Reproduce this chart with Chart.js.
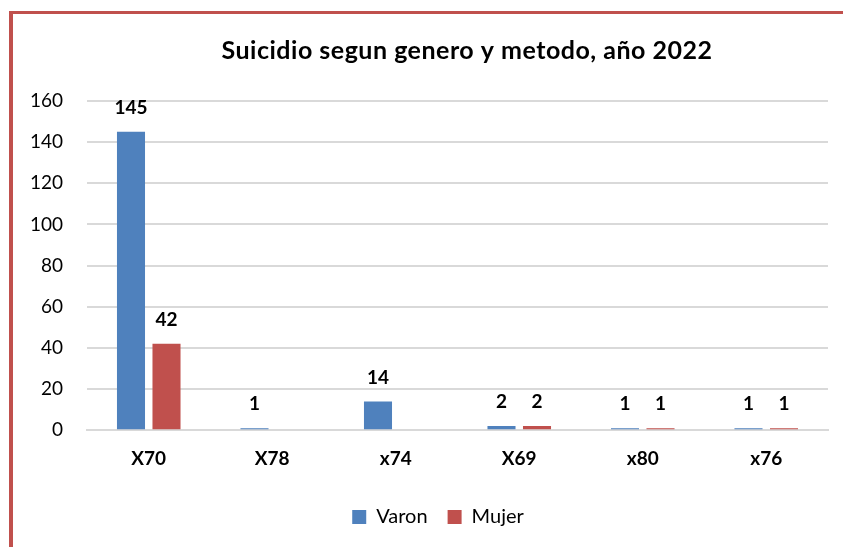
<!DOCTYPE html>
<html>
<head>
<meta charset="utf-8">
<script src="https://cdn.jsdelivr.net/npm/chart.js@4.4.1/dist/chart.umd.min.js"></script>
<style>
    html, body { margin: 0; padding: 0; background: #fff; overflow: hidden; }
    body { width: 843px; height: 547px; position: relative; }
    .frame {
        position: absolute; left: 9px; top: 11px; right: -10px; bottom: -10px;
        border-top: 3px solid #C0504D;
        border-left: 4px solid #C0504D;
    }
    .chart-box { position: absolute; left: 12px; top: 15px; width: 835px; height: 532px; }
</style>
</head>
<body>
<div class="frame"></div>
<div class="chart-box"><canvas id="main-canvas"></canvas></div>
<script>
const categories = ['X70', 'X78', 'x74', 'X69', 'x80', 'x76'];
const varonValues = [145, 1, 14, 2, 1, 1];
const mujerValues = [42, null, null, 2, 1, 1];
const yTicks = [0, 20, 40, 60, 80, 100, 120, 140, 160];
const chartTitle = 'Suicidio segun genero y metodo, año 2022';

const FONT = 'Lato, "Open Sans", sans-serif';

// title drawn by hand so it can sit off-centre like the original
const titlePlugin = {
    id: 'titlePlugin',
    afterDraw: chart => {
        const ctx = chart.ctx;
        ctx.save();
        ctx.font = 'bold 25px ' + FONT;
        ctx.letterSpacing = '0.5px';
        ctx.fillStyle = '#000';
        ctx.textAlign = 'center';
        ctx.textBaseline = 'middle';
        ctx.fillText(chartTitle, 455, 36);
        ctx.restore();
    }
};

// value labels above the bars
const valueLabels = {
    id: 'valueLabels',
    afterDatasetsDraw: chart => {
        const ctx = chart.ctx;
        ctx.save();
        ctx.font = 'bold 19px ' + FONT;
        ctx.fillStyle = '#000';
        ctx.textAlign = 'center';
        ctx.textBaseline = 'middle';
        chart.data.datasets.forEach((ds, i) => {
            chart.getDatasetMeta(i).data.forEach((bar, j) => {
                const v = ds.data[j];
                if (v === null || v === undefined) return;
                ctx.fillText(String(v), bar.x, bar.y - 24);
            });
        });
        ctx.restore();
    }
};

const ctx = document.getElementById('main-canvas').getContext('2d');
const myChart = new Chart(ctx, {
    type: 'bar',
    plugins: [titlePlugin, valueLabels],
    data: {
        labels: categories,
        datasets: [{
            label: 'Varon',
            data: varonValues,
            backgroundColor: '#4F81BD',
            borderWidth: 0,
            categoryPercentage: 0.575,
            barPercentage: 0.79
        },
        {
            label: 'Mujer',
            data: mujerValues,
            backgroundColor: '#C0504D',
            borderWidth: 0,
            categoryPercentage: 0.575,
            barPercentage: 0.79
        }]
    },
    options: {
        responsive: true,
        maintainAspectRatio: false,
        animation: false,
        layout: { padding: { left: 17, right: 0, top: 86, bottom: 10 } },
        plugins: {
            tooltip: { enabled: false },
            title: { display: false },
            legend: {
                position: 'bottom',
                labels: {
                    boxWidth: 14,
                    boxHeight: 14,
                    padding: 20,
                    color: '#000',
                    font: { family: FONT, size: 20 }
                }
            }
        },
        scales: {
            x: {
                grid: { display: false, drawTicks: false },
                border: { display: true, color: '#D9D9D9', width: 2 },
                ticks: {
                    color: '#000',
                    padding: 17,
                    font: { family: FONT, size: 19, weight: 'bold' }
                }
            },
            y: {
                min: 0,
                max: 160,
                afterFit: axis => { axis.width = 58; },
                afterBuildTicks: axis => axis.ticks = yTicks.map(v => ({ value: v })),
                grid: { color: '#D9D9D9', lineWidth: 2, drawTicks: false },
                border: { display: false },
                ticks: {
                    color: '#000',
                    padding: 24,
                    font: { family: FONT, size: 19 }
                }
            },
            // empty axis that only keeps the right margin of the plot
            spacer: {
                type: 'linear',
                position: 'right',
                min: 0,
                max: 1,
                afterFit: axis => { axis.width = 19; },
                grid: { display: false, drawTicks: false },
                border: { display: false },
                ticks: { display: false }
            }
        }
    }
});
</script>
</body>
</html>
